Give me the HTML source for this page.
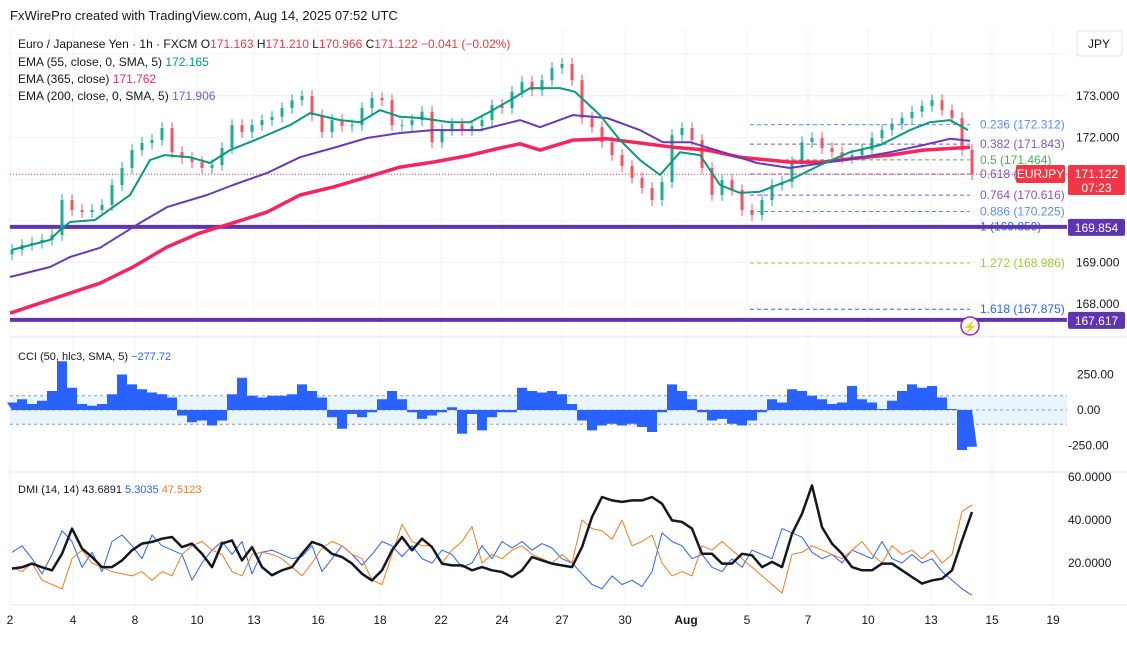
<!DOCTYPE html>
<html><head><meta charset="utf-8"><style>
body{margin:0;background:#fff;font-family:"Liberation Sans",sans-serif;}
svg text{font-family:"Liberation Sans",sans-serif;}
</style></head><body>
<svg id="c" width="1127" height="645" xmlns="http://www.w3.org/2000/svg">
<rect width="1127" height="645" fill="#fff"/>
<text x="10" y="20" font-size="13" fill="#131722">FxWirePro created with TradingView.com, Aug 14, 2025 07:52 UTC</text>
<g id="grid"></g>
<g id="main"></g>
<g id="cci"></g>
<g id="dmi"></g>
<g id="axes"></g>
<g font-size="12">
<text x="18" y="48" fill="#131722">Euro / Japanese Yen · 1h · FXCM  <tspan fill="#131722">O</tspan><tspan fill="#f23645">171.163</tspan>  H<tspan fill="#f23645">171.210</tspan>  L<tspan fill="#f23645">170.966</tspan>  C<tspan fill="#f23645">171.122  −0.041 (−0.02%)</tspan></text>
<text x="18" y="66" fill="#131722">EMA (55, close, 0, SMA, 5)  <tspan fill="#089981">172.165</tspan></text>
<text x="18" y="83" fill="#131722">EMA (365, close)  <tspan fill="#f7245e">171.762</tspan></text>
<text x="18" y="100" fill="#131722">EMA (200, close, 0, SMA, 5)  <tspan fill="#7e57c2">171.906</tspan></text>
</g>
<text x="18" y="360" font-size="11" fill="#131722">CCI (50, hlc3, SMA, 5)  <tspan fill="#2962ff">−277.72</tspan></text>
<text x="18" y="493" font-size="11" fill="#131722">DMI (14, 14)  43.6891  <tspan fill="#2962ff">5.3035</tspan>  <tspan fill="#f7791e">47.5123</tspan></text>
<g><rect x="1077" y="31" width="45" height="25" rx="3" fill="#fff" stroke="#e0e3eb"/><text x="1099" y="48" font-size="12" text-anchor="middle" fill="#131722">JPY</text></g>
</svg>
<script>
const closes=[169.30,169.42,169.47,169.54,169.66,170.50,170.26,170.21,170.26,170.38,170.86,171.27,171.70,171.87,171.94,172.23,171.65,171.51,171.41,171.27,171.34,171.75,172.30,172.13,172.30,172.42,172.50,172.71,172.90,173.00,172.54,172.13,172.42,172.28,172.30,172.71,172.95,172.90,172.30,172.30,172.42,172.62,171.89,172.18,172.33,172.18,172.28,172.42,172.78,172.71,173.10,173.34,173.14,173.38,173.67,173.77,173.38,172.47,172.25,171.89,171.58,171.32,171.03,170.79,170.50,170.93,172.06,172.23,171.94,171.27,170.62,170.98,170.74,170.26,170.14,170.50,170.86,170.93,171.41,171.89,171.99,171.75,171.65,171.51,171.58,171.70,171.99,172.18,172.33,172.47,172.62,172.76,172.90,172.66,172.47,171.70,171.12];
const emaX55=[12,50,60,70,95,130,150,165,190,210,230,260,290,310,340,360,380,400,420,450,470,490,510,530,560,575,600,620,640,660,680,700,720,740,760,790,820,850,880,910,930,950,968];
const ema55=[169.30,169.54,169.78,169.97,170.02,170.62,171.46,171.58,171.53,171.39,171.70,171.99,172.30,172.59,172.42,172.37,172.66,172.50,172.47,172.37,172.37,172.62,172.90,173.19,173.19,173.10,172.54,171.94,171.46,171.10,171.65,171.58,170.86,170.67,170.70,170.98,171.34,171.65,171.82,172.18,172.37,172.42,172.18];
const emaX200=[10,50,70,100,140,167,207,233,267,300,333,367,400,433,480,520,540,573,607,640,663,690,723,757,790,823,857,890,923,950,970];
const ema200=[168.65,168.89,169.13,169.35,169.95,170.33,170.62,170.86,171.15,171.53,171.75,171.99,172.11,172.18,172.18,172.42,172.25,172.54,172.47,172.18,171.89,171.89,171.65,171.39,171.27,171.39,171.51,171.65,171.82,171.97,171.92];
const emaX365=[10,50,100,133,167,200,233,267,300,333,367,400,433,467,500,520,540,573,607,640,673,707,740,790,823,857,890,923,970];
const ema365=[167.78,168.10,168.50,168.89,169.37,169.71,169.95,170.21,170.62,170.81,171.05,171.29,171.41,171.56,171.75,171.85,171.70,171.94,171.97,171.87,171.77,171.70,171.53,171.41,171.41,171.51,171.58,171.70,171.77];
const cciVals=[53,76,42,65,134,343,157,42,30,42,111,250,180,146,123,111,88,-39,-86,-74,-109,-74,111,227,100,88,100,100,111,180,134,88,-51,-132,-28,-51,-16,76,134,76,-16,-63,-39,-16,19,-167,-28,-144,-51,-16,-16,157,134,123,134,111,42,-74,-144,-109,-97,-109,-97,-120,-155,-16,180,134,76,-16,-74,-63,-97,-109,-74,-16,76,53,146,134,100,76,42,53,169,76,53,7,65,134,180,157,169,88,7,-282,-259];
const adx=[17.4,18,19.7,18,16.6,24.3,36.0,26.7,22.8,18.1,18.1,21.2,25.9,29.0,29.8,31.3,32.1,27.4,29.0,24.3,18.1,29.0,30.5,21.2,27.4,18.1,14.3,16.6,18.1,24.3,29.8,28.2,24.3,22.8,19.7,15.0,11.9,16.6,25.9,32.1,25.9,31.3,27.4,19.7,18.9,18.9,16.6,18.1,16.6,15.8,13.5,16.6,22.8,21.2,19.7,18.9,18.1,27.4,41.4,50.7,49.1,48.4,49.1,49.1,50.7,47.6,39.8,39.1,36.0,24.3,24.3,19.7,19.7,24.3,23.6,18.1,20.5,18.1,33.6,42.9,56.1,36.7,29.0,24.3,18.1,16.6,16.6,19.7,19.7,16.6,13.5,10.4,11.9,12.7,16.6,30.5,43.7];
const diPlus=[25,28,22,15,24,35,30,18,25,16,30,33,28,22,33,28,26,24,12,20,26,30,24,30,15,25,26,24,22,23,28,16,22,28,24,19,24,30,28,23,28,22,20,26,24,18,20,28,22,30,27,30,26,29,27,22,20,15,10,8,14,10,12,9,16,34,30,28,22,24,18,16,22,18,26,24,22,36,34,32,25,22,24,20,26,24,22,30,22,20,24,20,22,16,12,8,5];
const diMinus=[18,16,20,12,10,8,22,26,20,18,16,15,14,16,12,16,14,24,28,30,26,24,16,14,24,25,24,22,18,14,20,27,30,28,24,22,12,10,24,38,30,28,28,20,26,30,37,20,24,22,26,28,24,22,20,24,20,40,36,35,31,40,28,30,33,20,14,16,14,28,26,30,26,22,18,14,10,6,24,25,28,26,24,22,26,30,24,20,28,24,26,22,26,20,24,44,47];
const priceTicks=[173,172,169,168];
const cciTicks=[250,0,-250];
const dmiTicks=[60,40,20];
const dateLabels=["2","4","8","10","13","16","18","22","24","27","30","Aug","5","7","10","13","15","19"];
const dateX=[10,73,135,197,254,318,380,441,502,562,625,686,747,808,868,931,992,1053];
const fibLevels=[0.236,0.382,0.5,0.618,0.764,0.886,1,1.272,1.618];
const fibPrices=[172.312,171.843,171.464,171.122,170.616,170.225,169.859,168.986,167.875];
const fibColors=["#5b8cf0","#7e57c2","#4caf50","#7e57c2","#7e57c2","#5b8cf0","#2962ff","#9ccc27","#2962ff"];
const hLevels=[169.854,167.617];

const NS="http://www.w3.org/2000/svg";
function mk(p,t,a){const e=document.createElementNS(NS,t);for(const k in a)e.setAttribute(k,a[k]);p.appendChild(e);return e;}
const X=i=>12+i*10;
const PY=p=>96+(173-p)*41.6;
const CY=v=>410-v*0.142;
const DY=v=>477+(60-v)*2.15;
const G=document.getElementById('grid'),M=document.getElementById('main'),C=document.getElementById('cci'),D=document.getElementById('dmi'),A=document.getElementById('axes');

dateX.forEach(x=>{const l=mk(G,'line',{x1:x,x2:x,y1:28,y2:605,stroke:'#f0f3fa'});

});
[137-41.6*2,137-41.6,...priceTicks.map(PY),PY(170),PY(171)].forEach(y=>{const l=mk(G,'line',{x1:10,x2:1067,y1:y,y2:y,stroke:'#f0f3fa'});

});
[337,472,605].forEach(y=>{const l=mk(G,'line',{x1:10,x2:1127,y1:y,y2:y,stroke:'#e0e3eb'});

});

fibPrices.forEach((p,i)=>{const y=PY(p);
const l=mk(M,'line',{x1:750,x2:970,y1:y,y2:y,stroke:fibColors[i],'stroke-dasharray':'4 3'});


const t=mk(M,'text',{x:980,y:y+4,'font-size':12,fill:fibColors[i]});t.textContent=fibLevels[i]+' ('+p.toFixed(3)+')';

});
{const y=PY(closes[closes.length-1]);const l=mk(M,'line',{x1:10,x2:1067,y1:y,y2:y,stroke:'#f23645','stroke-dasharray':'1 2'});

}
hLevels.forEach(p=>{const y=PY(p);const l=mk(M,'line',{x1:10,x2:1067,y1:y,y2:y,stroke:'#5e35b1','stroke-width':4});

});
closes.forEach((c,i)=>{const o=i?closes[i-1]:c-0.1;const up=c>=o;const col=up?'#22ab94':'#f7525f';
const hi=Math.max(o,c)+0.14,lo=Math.min(o,c)-0.14;const x=X(i);
const w=mk(M,'line',{x1:x,x2:x,y1:PY(hi),y2:PY(lo),stroke:col});


const b=mk(M,'rect',{x:x-1.5,y:PY(Math.max(o,c)),width:3,height:Math.max(1,Math.abs(PY(o)-PY(c))),fill:col});

});
function line(p,xs,ys,fy,col,w,name){const d=xs.map((x,i)=>(i?'L':'M')+x+' '+fy(ys[i]).toFixed(1)).join('');
const e=mk(p,'path',{d:d,fill:'none',stroke:col,'stroke-width':w,'stroke-linejoin':'round'});

}
line(M,emaX365,ema365,PY,'#f7245e',3.5,'ema-365-line');
line(M,emaX200,ema200,PY,'#673ab7',2,'ema-200-line');
line(M,emaX55,ema55,PY,'#089981',2,'ema-55-line');
{const g=mk(M,'g',{});

mk(g,'circle',{cx:970,cy:326,r:9,fill:'#fff',stroke:'#9c27b0','stroke-width':1.5});
const t=mk(g,'text',{x:970,y:331,'font-size':12,'text-anchor':'middle',fill:'#9c27b0'});t.textContent='⚡';}

mk(C,'rect',{x:10,y:CY(100),width:1057,height:CY(-100)-CY(100),fill:'#e3f2fd',opacity:0.8});
[100,0,-100].forEach(v=>{const l=mk(C,'line',{x1:10,x2:1067,y1:CY(v),y2:CY(v),stroke:'#9598a1','stroke-dasharray':'3 3'});

});
{let d='M'+X(0)+' '+CY(0);cciVals.forEach((v,i)=>{d+='L'+(X(i)-5)+' '+CY(v).toFixed(1)+'L'+(X(i)+5)+' '+CY(v).toFixed(1);});
d+='L'+X(cciVals.length-1)+' '+CY(0)+'Z';
const e=mk(C,'path',{d:d,fill:'#2962ff'});

}

const xs=adx.map((_,i)=>X(i));
line(D,xs,diPlus,DY,'#2962ff',1,'di-plus-line');
line(D,xs,diMinus,DY,'#f7791e',1,'di-minus-line');
line(D,xs,adx,DY,'#131722',2.5,'adx-line');

function lab(x,y,s,name){const t=mk(A,'text',{x:x,y:y+4,'font-size':12,fill:'#131722'});t.textContent=s;

}
priceTicks.forEach(p=>lab(1076,PY(p),p.toFixed(3),'price-tick'));
cciTicks.forEach(v=>lab(v<0?1068:1077,CY(v),v.toFixed(2),'cci-tick'));
dmiTicks.forEach(v=>lab(1068,DY(v),v.toFixed(4),'dmi-tick'));
dateLabels.forEach((s,i)=>{const t=mk(A,'text',{x:dateX[i],y:624,'font-size':12,'text-anchor':'middle',fill:'#131722','font-weight':s==='Aug'?'bold':'normal'});t.textContent=s;

});
function box(x,y,w,h,fill,lines,name){const g=mk(A,'g',{});

mk(g,'rect',{x:x,y:y,width:w,height:h,fill:fill,rx:2});
lines.forEach((s,i)=>{const t=mk(g,'text',{x:x+w/2,y:y+13+i*14,'font-size':12,'text-anchor':'middle',fill:'#fff'});t.textContent=s;});}
box(1016,165,49,18,'#f23645',['EURJPY'],'symbol-label');
box(1068,165,57,30,'#f23645',['171.122','07:23'],'last-price-label');
hLevels.forEach(p=>box(1068,PY(p)-8,57,17,'#5e35b1',[p.toFixed(3)],'level-price-label'));
</script>
</body></html>
